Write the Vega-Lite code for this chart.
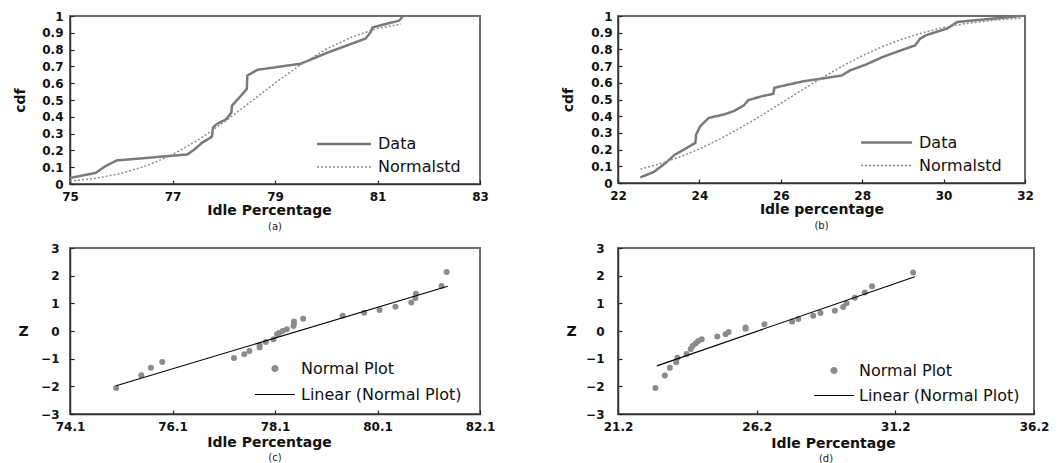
{
  "$schema": "https://vega.github.io/schema/vega-lite/v6.json",
  "background": "white",
  "padding": {"left": 12, "top": 9, "right": 5, "bottom": 2},
  "bounds": "flush",
  "columns": 2,
  "spacing": {"row": 64, "column": 138},
  "resolve": {"scale": {"color": "independent", "strokeDash": "independent", "strokeWidth": "independent"}, "legend": {"color": "independent", "strokeDash": "independent", "strokeWidth": "independent"}},
  "datasets": {
    "a": [
      {"x": 75.0, "y": 0.036, "s": "Data"}, {"x": 75.5, "y": 0.066, "s": "Data"}, {"x": 75.69, "y": 0.106, "s": "Data"}, {"x": 75.91, "y": 0.14, "s": "Data"},
      {"x": 77.29, "y": 0.176, "s": "Data"}, {"x": 77.43, "y": 0.206, "s": "Data"}, {"x": 77.58, "y": 0.246, "s": "Data"}, {"x": 77.77, "y": 0.282, "s": "Data"},
      {"x": 77.79, "y": 0.336, "s": "Data"}, {"x": 77.86, "y": 0.356, "s": "Data"}, {"x": 78.05, "y": 0.386, "s": "Data"}, {"x": 78.15, "y": 0.426, "s": "Data"},
      {"x": 78.16, "y": 0.466, "s": "Data"}, {"x": 78.28, "y": 0.506, "s": "Data"}, {"x": 78.45, "y": 0.566, "s": "Data"}, {"x": 78.46, "y": 0.646, "s": "Data"},
      {"x": 78.66, "y": 0.68, "s": "Data"}, {"x": 79.5, "y": 0.716, "s": "Data"}, {"x": 80.06, "y": 0.786, "s": "Data"}, {"x": 80.77, "y": 0.866, "s": "Data"},
      {"x": 80.87, "y": 0.906, "s": "Data"}, {"x": 80.9, "y": 0.932, "s": "Data"}, {"x": 81.42, "y": 0.972, "s": "Data"}, {"x": 81.5, "y": 1.0, "s": "Data"},
      {"x": 75.0, "y": 0.017, "s": "Normalstd"}, {"x": 75.5, "y": 0.034, "s": "Normalstd"}, {"x": 76.0, "y": 0.063, "s": "Normalstd"}, {"x": 76.5, "y": 0.109, "s": "Normalstd"},
      {"x": 77.0, "y": 0.175, "s": "Normalstd"}, {"x": 77.5, "y": 0.262, "s": "Normalstd"}, {"x": 78.0, "y": 0.367, "s": "Normalstd"}, {"x": 78.5, "y": 0.483, "s": "Normalstd"},
      {"x": 79.0, "y": 0.601, "s": "Normalstd"}, {"x": 79.5, "y": 0.71, "s": "Normalstd"}, {"x": 80.0, "y": 0.803, "s": "Normalstd"}, {"x": 80.5, "y": 0.875, "s": "Normalstd"},
      {"x": 81.0, "y": 0.926, "s": "Normalstd"}, {"x": 81.46, "y": 0.952, "s": "Normalstd"}
    ],
    "b": [
      {"x": 22.55, "y": 0.034, "s": "Data"}, {"x": 22.88, "y": 0.066, "s": "Data"}, {"x": 23.17, "y": 0.12, "s": "Data"}, {"x": 23.4, "y": 0.17, "s": "Data"},
      {"x": 23.62, "y": 0.2, "s": "Data"}, {"x": 23.9, "y": 0.24, "s": "Data"}, {"x": 23.92, "y": 0.29, "s": "Data"}, {"x": 24.02, "y": 0.34, "s": "Data"},
      {"x": 24.23, "y": 0.39, "s": "Data"}, {"x": 24.6, "y": 0.41, "s": "Data"}, {"x": 24.84, "y": 0.43, "s": "Data"}, {"x": 25.09, "y": 0.464, "s": "Data"},
      {"x": 25.2, "y": 0.496, "s": "Data"}, {"x": 25.54, "y": 0.52, "s": "Data"}, {"x": 25.82, "y": 0.534, "s": "Data"}, {"x": 25.84, "y": 0.57, "s": "Data"},
      {"x": 26.2, "y": 0.59, "s": "Data"}, {"x": 26.53, "y": 0.608, "s": "Data"}, {"x": 27.0, "y": 0.625, "s": "Data"}, {"x": 27.5, "y": 0.644, "s": "Data"},
      {"x": 27.7, "y": 0.674, "s": "Data"}, {"x": 28.1, "y": 0.71, "s": "Data"}, {"x": 28.5, "y": 0.754, "s": "Data"}, {"x": 28.9, "y": 0.79, "s": "Data"},
      {"x": 29.3, "y": 0.824, "s": "Data"}, {"x": 29.42, "y": 0.864, "s": "Data"}, {"x": 29.58, "y": 0.886, "s": "Data"}, {"x": 30.1, "y": 0.926, "s": "Data"},
      {"x": 30.33, "y": 0.964, "s": "Data"}, {"x": 31.9, "y": 1.0, "s": "Data"},
      {"x": 22.55, "y": 0.083, "s": "Normalstd"}, {"x": 23.0, "y": 0.113, "s": "Normalstd"}, {"x": 23.5, "y": 0.154, "s": "Normalstd"}, {"x": 24.0, "y": 0.204, "s": "Normalstd"},
      {"x": 24.5, "y": 0.263, "s": "Normalstd"}, {"x": 25.0, "y": 0.329, "s": "Normalstd"}, {"x": 25.5, "y": 0.401, "s": "Normalstd"}, {"x": 26.0, "y": 0.477, "s": "Normalstd"},
      {"x": 26.5, "y": 0.554, "s": "Normalstd"}, {"x": 27.0, "y": 0.628, "s": "Normalstd"}, {"x": 27.5, "y": 0.698, "s": "Normalstd"}, {"x": 28.0, "y": 0.762, "s": "Normalstd"},
      {"x": 28.5, "y": 0.817, "s": "Normalstd"}, {"x": 29.0, "y": 0.863, "s": "Normalstd"}, {"x": 29.5, "y": 0.901, "s": "Normalstd"}, {"x": 30.0, "y": 0.931, "s": "Normalstd"},
      {"x": 30.5, "y": 0.953, "s": "Normalstd"}, {"x": 31.0, "y": 0.969, "s": "Normalstd"}, {"x": 31.5, "y": 0.98, "s": "Normalstd"}, {"x": 31.9, "y": 0.987, "s": "Normalstd"}
    ],
    "c_pts": [
      {"x": 75.0, "z": -2.06, "s": "Normal Plot"}, {"x": 75.49, "z": -1.6, "s": "Normal Plot"}, {"x": 75.68, "z": -1.33, "s": "Normal Plot"}, {"x": 75.9, "z": -1.12, "s": "Normal Plot"},
      {"x": 77.3, "z": -0.98, "s": "Normal Plot"}, {"x": 77.5, "z": -0.84, "s": "Normal Plot"}, {"x": 77.6, "z": -0.72, "s": "Normal Plot"}, {"x": 77.8, "z": -0.6, "s": "Normal Plot"},
      {"x": 77.8, "z": -0.52, "s": "Normal Plot"}, {"x": 77.92, "z": -0.4, "s": "Normal Plot"}, {"x": 78.07, "z": -0.3, "s": "Normal Plot"}, {"x": 78.14, "z": -0.12, "s": "Normal Plot"},
      {"x": 78.18, "z": -0.07, "s": "Normal Plot"}, {"x": 78.25, "z": 0.0, "s": "Normal Plot"}, {"x": 78.33, "z": 0.06, "s": "Normal Plot"}, {"x": 78.46, "z": 0.18, "s": "Normal Plot"},
      {"x": 78.47, "z": 0.26, "s": "Normal Plot"}, {"x": 78.47, "z": 0.34, "s": "Normal Plot"}, {"x": 78.65, "z": 0.44, "s": "Normal Plot"}, {"x": 79.42, "z": 0.55, "s": "Normal Plot"},
      {"x": 79.84, "z": 0.66, "s": "Normal Plot"}, {"x": 80.14, "z": 0.76, "s": "Normal Plot"}, {"x": 80.45, "z": 0.88, "s": "Normal Plot"}, {"x": 80.76, "z": 1.03, "s": "Normal Plot"},
      {"x": 80.84, "z": 1.19, "s": "Normal Plot"}, {"x": 80.85, "z": 1.35, "s": "Normal Plot"}, {"x": 81.35, "z": 1.63, "s": "Normal Plot"}, {"x": 81.45, "z": 2.13, "s": "Normal Plot"}
    ],
    "c_fit": [
      {"x": 75.0, "z": -1.98, "s": "Linear (Normal Plot)"}, {"x": 81.47, "z": 1.62, "s": "Linear (Normal Plot)"}
    ],
    "d_pts": [
      {"x": 22.55, "z": -2.06, "s": "Normal Plot"}, {"x": 22.89, "z": -1.61, "s": "Normal Plot"}, {"x": 23.07, "z": -1.33, "s": "Normal Plot"}, {"x": 23.3, "z": -1.13, "s": "Normal Plot"},
      {"x": 23.34, "z": -0.97, "s": "Normal Plot"}, {"x": 23.67, "z": -0.83, "s": "Normal Plot"}, {"x": 23.82, "z": -0.65, "s": "Normal Plot"}, {"x": 23.89, "z": -0.54, "s": "Normal Plot"},
      {"x": 24.0, "z": -0.45, "s": "Normal Plot"}, {"x": 24.09, "z": -0.36, "s": "Normal Plot"}, {"x": 24.22, "z": -0.3, "s": "Normal Plot"}, {"x": 24.78, "z": -0.2, "s": "Normal Plot"},
      {"x": 25.08, "z": -0.12, "s": "Normal Plot"}, {"x": 25.19, "z": -0.04, "s": "Normal Plot"}, {"x": 25.8, "z": 0.08, "s": "Normal Plot"}, {"x": 25.8, "z": 0.13, "s": "Normal Plot"},
      {"x": 26.48, "z": 0.24, "s": "Normal Plot"}, {"x": 27.48, "z": 0.34, "s": "Normal Plot"}, {"x": 27.7, "z": 0.43, "s": "Normal Plot"}, {"x": 28.24, "z": 0.55, "s": "Normal Plot"},
      {"x": 28.5, "z": 0.65, "s": "Normal Plot"}, {"x": 29.02, "z": 0.73, "s": "Normal Plot"}, {"x": 29.32, "z": 0.87, "s": "Normal Plot"}, {"x": 29.44, "z": 1.0, "s": "Normal Plot"},
      {"x": 29.74, "z": 1.2, "s": "Normal Plot"}, {"x": 30.1, "z": 1.39, "s": "Normal Plot"}, {"x": 30.36, "z": 1.62, "s": "Normal Plot"}, {"x": 31.84, "z": 2.11, "s": "Normal Plot"}
    ],
    "d_fit": [
      {"x": 22.6, "z": -1.26, "s": "Linear (Normal Plot)"}, {"x": 31.9, "z": 1.96, "s": "Linear (Normal Plot)"}
    ]
  },
  "concat": [
    {
      "width": 410, "height": 168,
      "title": {"text": "(a)", "orient": "bottom", "fontSize": 10, "fontWeight": "normal", "font": "DejaVu Sans", "color": "#222", "offset": 5},
      "data": {"name": "a"},
      "mark": {"type": "line"},
      "encoding": {
        "x": {"field": "x", "type": "quantitative", "scale": {"domain": [75, 83], "nice": false, "zero": false},
              "axis": {"values": [75, 77, 79, 81, 83], "format": "d", "title": "Idle Percentage", "titleX": 199, "titleY": 26, "titleBaseline": "middle"}},
        "y": {"field": "y", "type": "quantitative", "scale": {"domain": [0, 1], "nice": false},
              "axis": {"values": [0, 0.1, 0.2, 0.3, 0.4, 0.5, 0.6, 0.7, 0.8, 0.9, 1], "format": ".1~f", "title": "cdf", "titleX": -50, "titleBaseline": "middle", "labelPadding": 11}},
        "color": {"field": "s", "type": "nominal", "scale": {"domain": ["Data", "Normalstd"], "range": ["#7a7a7a", "#8c8c8c"]},
                  "legend": {"orient": "none", "legendX": 247, "legendY": 120, "title": null, "symbolType": "M-5.4,0H5.4", "symbolSize": 100, "symbolOffset": 19, "labelFont": "DejaVu Sans", "labelFontSize": 16, "labelColor": "#111", "labelLimit": 400, "rowPadding": 7, "labelOffset": 26, "padding": 0}},
        "strokeDash": {"field": "s", "type": "nominal", "scale": {"domain": ["Data", "Normalstd"], "range": [[1, 0], [2, 2]]}},
        "strokeWidth": {"field": "s", "type": "ordinal", "scale": {"domain": ["Data", "Normalstd"], "range": [2.5, 1.5]}}
      }
    },
    {
      "width": 407, "height": 167,
      "title": {"text": "(b)", "orient": "bottom", "fontSize": 10, "fontWeight": "normal", "font": "DejaVu Sans", "color": "#222", "offset": 5},
      "data": {"name": "b"},
      "mark": {"type": "line"},
      "encoding": {
        "x": {"field": "x", "type": "quantitative", "scale": {"domain": [22, 32], "nice": false, "zero": false},
              "axis": {"values": [22, 24, 26, 28, 30, 32], "format": "d", "title": "Idle percentage", "titleY": 26, "titleBaseline": "middle"}},
        "y": {"field": "y", "type": "quantitative", "scale": {"domain": [0, 1], "nice": false},
              "axis": {"values": [0, 0.1, 0.2, 0.3, 0.4, 0.5, 0.6, 0.7, 0.8, 0.9, 1], "format": ".1~f", "title": "cdf", "titleX": -50, "titleBaseline": "middle", "labelPadding": 10}},
        "color": {"field": "s", "type": "nominal", "scale": {"domain": ["Data", "Normalstd"], "range": ["#7a7a7a", "#8c8c8c"]},
                  "legend": {"orient": "none", "legendX": 243, "legendY": 118.5, "title": null, "symbolType": "M-5.1,0H5.1", "symbolSize": 100, "symbolOffset": 17.5, "labelFont": "DejaVu Sans", "labelFontSize": 16, "labelColor": "#111", "labelLimit": 400, "rowPadding": 7, "labelOffset": 24.5, "padding": 0}},
        "strokeDash": {"field": "s", "type": "nominal", "scale": {"domain": ["Data", "Normalstd"], "range": [[1, 0], [2, 2]]}},
        "strokeWidth": {"field": "s", "type": "ordinal", "scale": {"domain": ["Data", "Normalstd"], "range": [2.5, 1.5]}}
      }
    },
    {
      "width": 410, "height": 166,
      "title": {"text": "(c)", "orient": "bottom", "fontSize": 10, "fontWeight": "normal", "font": "DejaVu Sans", "color": "#222", "offset": 4},
      "encoding": {
        "x": {"field": "x", "type": "quantitative", "scale": {"domain": [74.1, 82.1], "nice": false, "zero": false},
              "axis": {"values": [74.1, 76.1, 78.1, 80.1, 82.1], "format": ".1f", "title": "Idle Percentage", "titleX": 199, "titleY": 28, "titleBaseline": "middle"}},
        "y": {"field": "z", "type": "quantitative", "scale": {"domain": [-3, 3], "nice": false, "zero": false},
              "axis": {"values": [-3, -2, -1, 0, 1, 2, 3], "format": "d", "title": "Z", "titleAngle": 0, "titleX": -47, "titleY": 83, "titleAlign": "center", "titleBaseline": "middle", "labelPadding": 15}},
        "color": {"field": "s", "type": "nominal", "scale": {"domain": ["Normal Plot", "Linear (Normal Plot)"], "range": ["#8c8c8c", "#000000"]},
                  "legend": {"orient": "none", "legendX": 185, "legendY": 112.5, "title": null, "symbolSize": 100, "symbolOffset": 12, "labelFont": "DejaVu Sans", "labelFontSize": 16, "labelColor": "#111", "labelLimit": 400, "rowPadding": 10, "labelOffset": 18, "padding": 0,
                             "encode": {"symbols": {"update": {
                               "shape": {"signal": "datum.value === 'Normal Plot' ? 'M-0.6,0A0.6,0.6,0,1,0,0.6,0A0.6,0.6,0,1,0,-0.6,0Z' : 'M-4,0H4'"},
                               "fill": {"signal": "datum.value === 'Normal Plot' ? '#8c8c8c' : 'transparent'"},
                               "stroke": {"signal": "datum.value === 'Normal Plot' ? 'transparent' : '#000000'"},
                               "strokeWidth": {"value": 1.2},
                               "opacity": {"value": 1}
                             }}}}}
      },
      "layer": [
        {"data": {"name": "c_pts"}, "mark": {"type": "point", "filled": true, "size": 36, "opacity": 1}},
        {"data": {"name": "c_fit"}, "mark": {"type": "line", "strokeWidth": 1.1}}
      ]
    },
    {
      "width": 416, "height": 166,
      "title": {"text": "(d)", "orient": "bottom", "fontSize": 10, "fontWeight": "normal", "font": "DejaVu Sans", "color": "#222", "offset": 4},
      "encoding": {
        "x": {"field": "x", "type": "quantitative", "scale": {"domain": [21.2, 36.2], "nice": false, "zero": false},
              "axis": {"values": [21.2, 26.2, 31.2, 36.2], "format": ".1f", "title": "Idle Percentage", "titleX": 215, "titleY": 29, "titleBaseline": "middle"}},
        "y": {"field": "z", "type": "quantitative", "scale": {"domain": [-3, 3], "nice": false, "zero": false},
              "axis": {"values": [-3, -2, -1, 0, 1, 2, 3], "format": "d", "title": "Z", "titleAngle": 0, "titleX": -47, "titleY": 83, "titleAlign": "center", "titleBaseline": "middle", "labelPadding": 18}},
        "color": {"field": "s", "type": "nominal", "scale": {"domain": ["Normal Plot", "Linear (Normal Plot)"], "range": ["#8c8c8c", "#000000"]},
                  "legend": {"orient": "none", "legendX": 196, "legendY": 114.5, "title": null, "symbolSize": 100, "symbolOffset": 12, "labelFont": "DejaVu Sans", "labelFontSize": 16, "labelColor": "#111", "labelLimit": 400, "rowPadding": 9, "labelOffset": 17, "padding": 0,
                             "encode": {"symbols": {"update": {
                               "shape": {"signal": "datum.value === 'Normal Plot' ? 'M-0.6,0A0.6,0.6,0,1,0,0.6,0A0.6,0.6,0,1,0,-0.6,0Z' : 'M-4,0H4'"},
                               "fill": {"signal": "datum.value === 'Normal Plot' ? '#8c8c8c' : 'transparent'"},
                               "stroke": {"signal": "datum.value === 'Normal Plot' ? 'transparent' : '#000000'"},
                               "strokeWidth": {"value": 1.2},
                               "opacity": {"value": 1}
                             }}}}}
      },
      "layer": [
        {"data": {"name": "d_pts"}, "mark": {"type": "point", "filled": true, "size": 36, "opacity": 1}},
        {"data": {"name": "d_fit"}, "mark": {"type": "line", "strokeWidth": 1.1}}
      ]
    }
  ],
  "config": {
    "font": "DejaVu Sans",
    "view": {"stroke": "#6e6e6e", "strokeWidth": 2},
    "axis": {
      "labelFont": "DejaVu Sans", "labelFontWeight": "bold", "labelFontSize": 12, "labelColor": "#111",
      "titleFont": "DejaVu Sans", "titleFontWeight": "bold", "titleFontSize": 14, "titleColor": "#111",
      "grid": false, "domainColor": "#333", "domainWidth": 1.5, "tickColor": "#222", "tickSize": -4, "tickWidth": 1.2,
      "labelOverlap": false, "labelFlush": false, "labelBound": false
    },
    "axisX": {"labelPadding": 11}
  }
}
